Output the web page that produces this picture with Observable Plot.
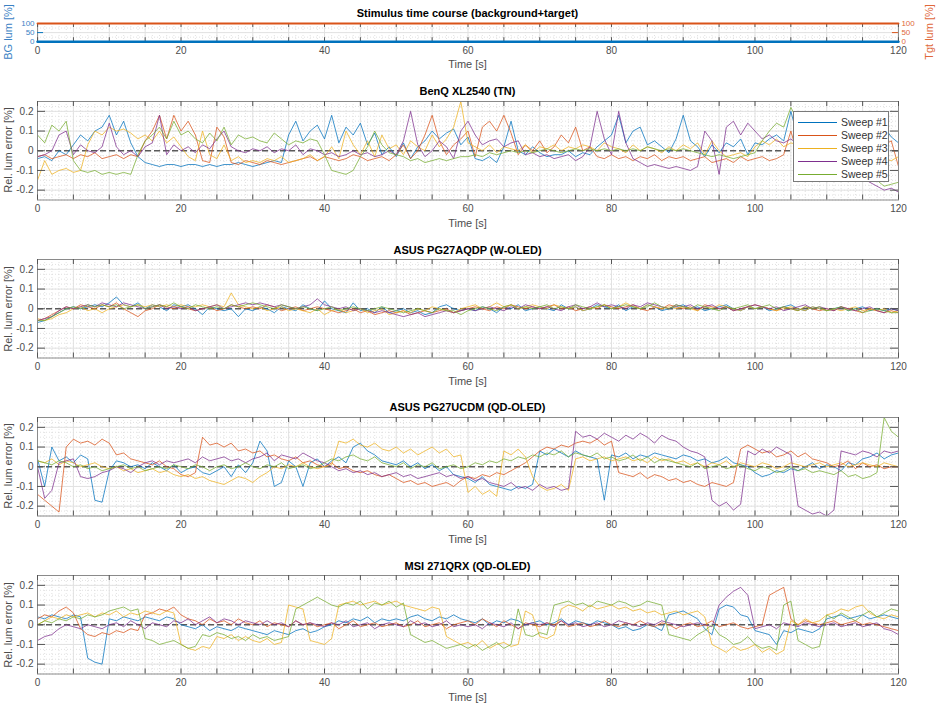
<!DOCTYPE html>
<html><head><meta charset="utf-8">
<script src="https://cdn.jsdelivr.net/npm/d3@7"></script>
<script src="https://cdn.jsdelivr.net/npm/@observablehq/plot@0.6"></script>
<style>
body{margin:0;background:#fff;font-family:"Liberation Sans",Arial,Helvetica,sans-serif;}
#root{position:relative;width:938px;height:708px;overflow:hidden;background:#fff;}
.panel{position:absolute;left:0;}
.ttl{position:absolute;left:37px;width:861px;text-align:center;font-weight:bold;font-size:11px;line-height:13px;color:#000;}
.xl{position:absolute;left:37px;width:861px;text-align:center;font-size:11px;line-height:13px;color:#4d4d4d;}
.yl{position:absolute;font-size:11px;line-height:13px;color:#4d4d4d;white-space:nowrap;transform:translate(-50%,-50%) rotate(-90deg);}
.leg{position:absolute;background:#fff;border:1px solid #7a7a7a;box-sizing:border-box;}
.legrow{position:absolute;left:0;height:13px;width:100%;font-size:10.5px;line-height:13px;color:#333;white-space:nowrap;}
.legline{position:absolute;left:4px;top:6px;width:39px;height:0;border-top:1px solid;}
.legtxt{position:absolute;left:47px;top:0;white-space:nowrap;}
</style></head><body><div id="root"></div><script>
// ---------- data ----------
const sampleTimes = d3.range(0, 121, 1); // seconds
const sweepNames = ["Sweep #1", "Sweep #2", "Sweep #3", "Sweep #4", "Sweep #5"];
const sweepColors = ["#0072BD", "#D95319", "#EDB120", "#7E2F8E", "#77AC30"];
const panelTitles = ["BenQ XL2540 (TN)", "ASUS PG27AQDP (W-OLED)", "ASUS PG27UCDM (QD-OLED)", "MSI 271QRX (QD-OLED)"];
const stimTitle = "Stimulus time course (background+target)";
const xTickLabels = [0, 20, 40, 60, 80, 100, 120];
const xTickMarks = [0,5,10,15,20,25,30,35,40,45,50,55,60,65,70,75,80,85,90,95,100,105,110,115,120];
const yTickLabels = [-0.2, -0.1, 0, 0.1, 0.2];
const stimTicks = [0, 50, 100];
const stimTime = [0, 120];
const bgLum = [0, 0];
const tgtLum = [100, 100];

// relative luminance error, in hundredths of a percent, one value per second
const benq1 = [-4,-3,-5,0,-2,3,8,5,10,12, 18,8,15,4,-3,-6,-7,-8,-7,-7, -8,-7,-7,-8,-7,-8,-7,-7,-6,-7, -8,-7,-6,-5,-6,8,15,5,10,13, 6,18,4,12,8,14,3,9,-2,2, -3,4,-4,2,5,10,6,9,11,3, 7,-4,-5,-3,-6,2,15,0,-2,2, -1,-3,-2,-2,0,-3,-1,-2,2,5, 8,18,4,10,12,3,5,2,-1,6, 18,5,2,-3,3,-1,4,2,6,-2, 4,3,6,8,5,20,6,4,2,5, 3,6,2,7,4,8,3,10,12,7, 4];
const benq2 = [-3,-2,-4,-3,-2,-4,-2,-3,-1,-4, -3,-2,-4,-2,-3,5,10,18,6,18, 10,15,8,-5,-6,12,7,-6,-7,-5, -6,-7,-5,-6,-7,-6,-5,-4,-3,-5, -3,-4,-5,-4,-2,-3,-5,-4,-3,-5, -2,3,-4,0,8,18,5,-2,3,6, 10,-3,12,15,10,18,9,-2,3,0, 5,-1,2,8,4,12,0,2,-3,-4, -2,-4,-3,-5,-3,-4,-2,-5,-3,-4, -3,-5,-4,-3,-6,-5,-4,-6,-3,-5, -4,-3,-5,-4,-2,10,-3,-4,-2,-3, -2,-4,-3,-1,-3,0,-2,2,3,5, -8];
const benq3 = [-15,-5,-12,-10,-9,-11,-10,3,10,8, 12,10,11,9,6,8,5,10,4,7, 2,-3,-5,10,-2,-4,3,-5,-3,-6, -5,-6,-4,-5,-3,-6,-5,-4,-2,-5, -3,2,-4,10,3,-2,5,-3,8,1, 3,-2,5,2,0,8,2,6,12,25, 4,2,0,3,-1,2,1,0,3,-1, 2,1,3,0,2,1,3,2,0,4, 2,1,-1,3,0,2,1,-1,2,0, 3,1,4,-2,5,0,-3,-2,-1,-3, 2,5,3,6,2,4,3,2,1,3, 2,0,3,1,2,-1,0,-2,-4,-5, -3];
const benq4 = [-3,-2,0,8,10,-2,3,0,-1,2, 14,2,-2,0,-3,2,4,18,-2,3, 0,2,-1,3,1,6,10,2,0,-1, 1,0,2,-1,1,0,3,-2,1,0, -2,-1,-3,-2,0,-2,-1,-3,-2,0, -2,5,20,3,-3,0,5,2,-4,10, 15,8,3,5,6,2,4,5,-2,-1, -3,-2,-4,-3,-2,-5,-3,2,20,6, -2,20,4,-4,-6,-8,-7,-8,-9,-8, -9,-10,-8,10,5,-12,12,15,8,14, 10,6,8,5,4,6,3,2,0,-2, -4,-6,-8,-10,-12,-14,-16,-18,-20,-19, -21];
const benq5 = [8,4,13,10,15,-5,-10,-11,-10,-12, -11,-12,-11,-12,-2,5,8,12,6,15, 8,10,6,4,9,5,12,3,8,6, 7,5,4,9,6,3,5,4,6,5, -2,-10,-11,-12,-10,-3,2,10,3,-1, -2,-3,-5,-4,-6,-5,-4,-5,-4,-3, -3,-2,-3,-1,-2,-1,0,-1,0,-1, 0,1,0,-1,0,1,0,1,0,1, 0,1,0,1,0,2,1,0,1,0, 1,0,-1,-2,-3,-2,-3,-4,-3,-2, -1,5,10,14,12,22,15,8,5,3, 2,0,-2,-5,-8,-10,-12,-15,-18,-17, -16];

const woled1 = [-7,-6,-4,-2,0,1,0,1,2,1, 3,6,2,1,3,0,2,1,-1,2, 1,2,0,-3,1,0,-1,0,-4,0, -1,1,0,-2,1,0,-1,2,0,-1, 4,0,-1,-2,3,-1,0,-2,1,-2, -1,0,-2,-1,-3,-2,1,2,0,-1, 0,-1,1,0,-2,1,0,2,-1,0, 1,0,-1,2,0,1,-1,0,2,1, 0,2,-1,1,0,2,1,-1,0,1, 2,0,1,-1,0,1,2,0,-1,1, 0,1,-1,0,1,2,0,-1,1,0, -1,0,1,-1,0,1,-1,0,-1,0, -1];
const woled2 = [-6,-5,-3,-1,1,0,2,1,0,2, 1,3,0,-2,-4,-1,0,2,1,0, 1,0,-1,0,1,-1,0,2,1,0, 1,0,2,1,-1,0,1,-1,0,1, 0,-1,-2,-1,0,-2,-1,-3,-2,-1, -2,-1,-3,-2,-1,-2,-1,0,-2,-1, 0,1,0,-1,1,0,2,1,0,1, 0,1,2,0,1,-1,0,1,0,2, 1,0,1,2,0,-1,1,0,2,1, 0,1,-1,2,1,0,1,-1,0,1, 2,1,0,-1,1,0,-1,1,0,-1, 0,-1,1,0,-1,-2,0,-1,-2,-1, -2];
const woled3 = [-5,-6,-5,-3,-2,0,1,-1,0,-2, 0,1,2,1,2,1,2,1,2,1, 2,1,1,2,1,2,1,8,2,1, 0,1,-1,0,1,-1,0,-1,-2,0, -3,-1,0,-2,-1,0,-2,-1,0,-3, -2,-1,-2,0,-1,1,0,-1,-2,0, 1,2,0,1,3,1,2,0,1,2, 1,0,2,1,0,1,-1,0,1,2, 0,1,3,1,0,2,1,0,1,0, 1,0,-1,1,0,2,1,0,-1,1, 0,1,0,-1,0,1,0,-1,1,0, -1,0,-1,0,1,-1,0,-1,0,-2, -1];
const woled4 = [-6,-5,-4,-1,1,0,1,2,1,3, 2,1,3,2,1,0,1,2,0,1, 0,1,-1,0,1,2,0,1,2,3, 2,3,2,1,2,1,0,1,2,5, 2,1,0,1,-1,0,-1,-2,-1,-2, -3,-4,-3,-2,-4,-3,-2,-1,-2,-1, 0,-1,0,1,0,-1,1,0,2,1, 0,1,0,-1,1,2,0,1,3,1, 2,1,0,2,1,3,2,1,0,2, 1,2,0,1,2,0,1,-1,0,1, 2,1,0,1,-1,0,1,2,0,1, 0,-1,1,0,-1,0,1,-1,-2,0, -1];
const woled5 = [-6,-6,-4,-2,0,1,0,2,1,2, 1,2,0,1,2,0,1,2,1,3, 1,0,2,1,0,1,0,2,1,2, 3,2,1,0,2,1,0,1,0,-1, 0,1,-1,0,1,0,-1,0,1,0, -1,-2,-1,0,-1,-2,0,-1,-1,-3, -1,0,1,0,-1,1,2,0,1,0, 1,2,0,1,0,2,1,0,1,2, 0,1,2,1,0,1,3,1,0,2, 1,0,2,1,0,-1,1,0,1,2, 0,1,2,0,1,0,-1,1,0,1, -1,0,1,-1,0,-2,-1,0,-1,-2, -2];

const ucdm1 = [4,-10,10,3,5,2,6,4,-17,-18, -2,3,2,0,1,-1,2,0,-2,1, -3,-1,0,-3,-4,-2,0,-5,1,-3, 2,13,8,-10,-8,3,0,-10,2,4, 0,3,5,2,10,12,8,6,3,2, 1,3,0,2,-1,1,-2,0,-4,-5, -6,-8,-5,-9,-10,-11,-12,-10,-11,-9, 8,6,9,7,5,8,6,5,4,-17, 6,5,7,4,6,5,7,6,5,4, 6,5,3,4,2,3,5,2,1,0, -3,-5,-4,-2,-3,-1,-2,0,2,-1, 1,0,-2,2,1,4,5,7,4,6, 7];
const ucdm2 = [-14,-17,-20,-23,10,14,12,13,11,14, 12,6,7,4,3,2,1,3,0,-1, -4,-5,-3,15,11,12,10,12,8,9, 7,8,5,6,4,3,5,2,3,1, 0,2,-1,0,-2,-3,-2,-4,-5,-4, -6,-8,-7,-9,-8,-10,-9,-8,-10,-7, -5,-6,-4,-5,-3,-4,-2,0,2,5, 8,10,9,11,10,12,13,12,14,11, 13,-3,-4,-5,-3,-6,-4,-5,-7,-6, -8,-7,-9,-10,-8,-9,-10,-8,9,11, 9,7,8,5,6,8,5,7,4,3, 2,0,1,3,-1,2,0,1,-1,0, 0];
const ucdm3 = [3,2,4,1,3,2,0,1,2,0, -1,0,-2,-1,-3,-2,-1,-3,-2,-4, -5,-4,-6,-5,-7,-8,-9,-7,-5,-6, -8,-5,-3,0,-1,1,0,2,0,-1, 0,1,13,12,14,11,10,12,9,8, 10,7,9,6,8,10,7,9,5,6, -13,-10,-14,-12,-15,8,6,9,5,-5, -10,-12,-11,-9,-12,4,5,3,4,5, 3,4,5,3,4,2,5,3,4,2, 3,1,2,0,2,1,3,0,2,1, 0,2,1,-1,0,2,1,0,1,2, 0,1,2,0,1,2,1,0,2,1, 0];
const ucdm4 = [0,-16,-12,2,3,4,-5,-6,-5,-3, -2,0,-1,-3,0,2,3,1,3,2, 3,4,2,5,3,4,5,3,4,2, 4,5,7,3,6,5,4,7,5,3, 2,0,-2,-1,-3,-2,-4,-3,-5,-4, -3,-5,-4,-6,-5,-4,-3,-5,-4,-6, -5,-7,-6,-8,-9,-10,-8,-11,-10,-12, -9,-11,-10,-12,-11,18,15,16,14,17, 15,13,16,14,17,15,12,16,14,13, 10,8,7,5,-17,-20,-18,-22,-19,8, 6,9,7,10,8,6,-20,-22,-24,-23, -25,-22,8,7,6,8,7,5,8,7, 8];
const ucdm5 = [3,2,1,3,2,0,1,-1,0,-2, -1,0,1,-1,0,-2,-1,0,-1,1, 0,-1,1,0,-2,0,1,-1,0,2, 0,-1,1,0,2,-1,0,1,-1,0, 2,4,3,5,6,4,3,5,2,1, 0,2,-1,1,0,2,-1,0,1,-1, 0,2,1,3,2,4,3,5,4,6, 5,7,6,8,5,7,6,5,7,4, 5,3,4,6,3,5,2,4,3,2, 1,0,2,-1,0,1,-1,0,1,-1, -2,0,-1,-3,-2,0,-2,-1,-3,-2, -3,-4,-2,-5,-4,-6,-5,-3,25,18, 15];

const msi1 = [4,3,5,4,3,5,4,-17,-19,-20, 3,2,4,3,2,4,3,2,4,3, 0,-1,-2,0,-3,-1,-2,-3,-1,-2, -3,-4,-5,-3,-4,-5,-3,-2,-4,-3, -1,0,2,1,3,2,4,1,3,2, 3,2,4,5,3,2,4,3,5,3, 2,1,3,0,2,1,3,2,0,1, 2,0,1,3,0,2,1,0,2,1, 0,-2,-1,-3,-2,0,-1,-3,5,6, 7,5,3,-2,-5,8,10,9,5,4, -3,-4,-5,-10,-3,-4,-2,-3,-4,-2, 3,4,5,3,4,5,3,4,5,4, 3];
const msi2 = [3,5,4,7,9,6,-2,-5,-6,-4, -5,-3,-4,-2,-3,5,6,8,7,9, 5,3,2,0,3,1,2,0,3,1, 0,2,-1,1,0,-1,2,0,1,-1, 0,1,-2,0,2,-1,0,1,-1,0, 1,-1,0,2,-1,0,1,-2,0,1, 2,0,3,1,-1,2,0,-2,1,0, -1,1,0,2,-1,0,1,-1,0,2, 0,-1,1,0,2,0,-1,1,0,-2, 0,1,-1,0,2,-1,0,1,-1,-2, -1,0,15,17,19,3,0,2,1,0, 1,2,0,1,2,0,1,0,-1,-2, -3];
const msi3 = [0,2,4,3,5,4,5,6,4,6, 5,7,4,6,5,7,6,5,7,6, -10,-12,-13,-11,-12,-6,-7,-5,-8,-6, -8,-9,-7,-10,-9,10,9,8,-8,-9, -10,-7,10,11,12,10,11,12,10,11, 12,10,9,8,7,9,8,-6,-8,-10, -9,-11,-8,-12,-10,-9,-11,-10,7,5, -6,-7,-5,8,10,9,7,10,8,9, 10,8,9,7,8,6,7,5,6,7, 5,6,7,4,-10,-12,-14,-11,-13,-12, -10,-14,-12,-15,-13,2,0,3,1,2, 5,6,8,7,9,10,6,4,3,5, 4];
const msi4 = [-8,-6,-5,-2,0,-1,-2,0,-1,-2, 0,1,-1,2,0,-2,1,0,-1,2, 1,3,0,2,4,1,3,2,0,2, 1,0,2,0,1,-1,2,0,1,0, -1,1,0,2,-1,0,1,-2,0,1, 0,-1,2,0,1,-1,0,2,-1,0, -1,0,-2,1,0,-1,1,-2,0,1, 0,1,-1,2,0,1,-1,0,1,-1, 0,2,1,0,-1,1,0,2,1,0, -1,0,1,0,-1,10,14,17,19,15, -2,-1,0,-2,1,0,-1,1,0,-1, 0,1,-1,0,1,-1,0,1,-2,-3, -5];
const msi5 = [0,2,1,3,2,4,3,5,4,5, 7,8,9,7,8,-7,-8,-10,-9,-8, -10,-12,-11,-5,-6,-4,-5,-7,-6,-8, -5,-7,-6,-8,-7,-6,8,10,12,14, 12,10,9,11,10,12,8,11,10,12, 9,11,-5,-7,-9,-8,-10,-12,-11,-10, -12,-10,-13,-11,-9,-12,-10,8,-5,-6, -4,-5,10,11,12,10,11,9,12,11, 10,12,11,9,10,12,11,10,-5,-6, -7,-8,-5,-3,0,-5,-7,-10,-9,-6, -10,-12,-11,-13,10,12,-8,-10,-12,-11, 5,3,6,4,2,5,7,4,6,8, 7];

const panelSeries = [
  [benq1, benq2, benq3, benq4, benq5],
  [woled1, woled2, woled3, woled4, woled5],
  [ucdm1, ucdm2, ucdm3, ucdm4, ucdm5],
  [msi1, msi2, msi3, msi4, msi5]
];

// ---------- layout ----------
const root = document.getElementById("root");
const W = 938, ML = 37, MR = 40, MT = 20, MB = 40;
const innerW = W - ML - MR;
const font = "'Liberation Sans', Arial, Helvetica, sans-serif";
const minorX = d3.range(0, 121, 1);
const majorGridY = [-0.2, -0.1, 0.1, 0.2];
const minorY = d3.range(-0.25, 0.2501, 0.025);
const minorStyle = {stroke: "#d4d4d4", strokeOpacity: 0.7, strokeDasharray: "1,2"};
const majorStyle = {stroke: "#e2e2e2", strokeOpacity: 1};

function addDiv(cls, text, style) {
  const d = document.createElement("div");
  d.className = cls;
  d.textContent = text;
  Object.assign(d.style, style);
  root.appendChild(d);
  return d;
}

function place(svg, top) {
  const wrap = document.createElement("div");
  wrap.className = "panel";
  wrap.style.top = top + "px";
  wrap.appendChild(svg);
  root.appendChild(wrap);
}

// ---------- stimulus panel ----------
{
  const boxTop = 22.5, boxH = 18.2;
  const svg = Plot.plot({
    width: W, height: MT + boxH + MB,
    marginTop: MT, marginBottom: MB, marginLeft: ML, marginRight: MR,
    style: {fontFamily: font, fontSize: "10px", background: "transparent", overflow: "visible"},
    x: {domain: [0, 120]},
    y: {domain: [0, 100]},
    marks: [
      Plot.gridX(minorX, minorStyle),
      Plot.gridY([25, 75], minorStyle),
      Plot.gridX(xTickMarks, majorStyle),
      Plot.gridY(stimTicks, majorStyle),
      Plot.frame({stroke: "#8a8a8a"}),
      Plot.ruleX(xTickMarks, {insetTop: boxH - 4, stroke: "#555"}),
      Plot.ruleX(xTickMarks, {insetBottom: boxH - 4, stroke: "#555"}),
      Plot.ruleY(stimTicks, {insetRight: innerW - 6, stroke: "#0072BD"}),
      Plot.ruleY(stimTicks, {insetLeft: innerW - 6, stroke: "#D95319"}),
      Plot.line(stimTime, {x: stimTime, y: tgtLum, stroke: "#D95319", strokeWidth: 2}),
      Plot.line(stimTime, {x: stimTime, y: bgLum, stroke: "#0072BD", strokeWidth: 2.6}),
      Plot.axisX({ticks: xTickLabels, tickSize: 0, tickPadding: 5, label: null, color: "#4d4d4d"}),
      Plot.axisY({anchor: "left", ticks: stimTicks, tickSize: 0, tickPadding: 3, label: null, color: "#3b82c4", fontSize: 8}),
      Plot.axisY({anchor: "right", ticks: stimTicks, tickSize: 0, tickPadding: 3, label: null, color: "#e0683a", fontSize: 8})
    ]
  });
  place(svg, boxTop - MT);
  addDiv("ttl", stimTitle, {top: (boxTop - 9.5 - 6.5) + "px"});
  addDiv("xl", "Time [s]", {top: (boxTop + boxH + 23.5 - 6.5) + "px"});
  addDiv("yl", "BG lum [%]", {left: "8px", top: (boxTop + boxH / 2) + "px", color: "#3b82c4"});
  addDiv("yl", "Tgt lum [%]", {left: "929px", top: (boxTop + boxH / 2) + "px", color: "#e0683a"});
}

// ---------- sweep panels ----------
const boxTops = [100.8, 259.3, 416.8, 575.3];
const boxH = 98.5;
panelTitles.forEach((title, p) => {
  const data = [];
  panelSeries[p].forEach((series, i) => {
    series.forEach((v, j) => data.push({t: sampleTimes[j], v: v / 100, sweep: sweepNames[i]}));
  });
  const boxTop = boxTops[p];
  const svg = Plot.plot({
    width: W, height: MT + boxH + MB,
    marginTop: MT, marginBottom: MB, marginLeft: ML, marginRight: MR,
    style: {fontFamily: font, fontSize: "10px", background: "transparent", overflow: "visible"},
    x: {domain: [0, 120]},
    y: {domain: [-0.25, 0.25]},
    color: {domain: sweepNames, range: sweepColors},
    marks: [
      Plot.gridX(minorX, minorStyle),
      Plot.gridY(minorY, minorStyle),
      Plot.gridX(xTickMarks, majorStyle),
      Plot.gridY(majorGridY, majorStyle),
      Plot.ruleY([0], {stroke: "#5a5a5a", strokeWidth: 1.3, strokeDasharray: "6,3"}),
      Plot.line(data, {x: "t", y: "v", z: "sweep", stroke: "sweep", strokeWidth: 0.75, clip: true}),
      Plot.frame({stroke: "#8a8a8a"}),
      Plot.ruleX(xTickMarks, {insetTop: boxH - 5, stroke: "#555"}),
      Plot.ruleX(xTickMarks, {insetBottom: boxH - 5, stroke: "#555"}),
      Plot.ruleY(yTickLabels, {insetRight: innerW - 8, stroke: "#555"}),
      Plot.ruleY(yTickLabels, {insetLeft: innerW - 8, stroke: "#555"}),
      Plot.axisX({ticks: xTickLabels, tickSize: 0, tickPadding: 5, label: null, color: "#4d4d4d"}),
      Plot.axisY({ticks: yTickLabels, tickSize: 0, tickPadding: 4, label: null, color: "#4d4d4d",
                  tickFormat: d => String(d)})
    ]
  });
  place(svg, boxTop - MT);
  addDiv("ttl", title, {top: (boxTop - 9 - 6.5) + "px"});
  addDiv("xl", "Time [s]", {top: (boxTop + boxH + 24 - 6.5) + "px"});
  addDiv("yl", "Rel. lum error [%]", {left: "8px", top: (boxTop + boxH / 2) + "px"});
});

// ---------- legend (first panel) ----------
{
  const leg = addDiv("leg", "", {left: "793px", top: "111px", width: "95.5px", height: "71px"});
  sweepNames.forEach((name, i) => {
    const row = document.createElement("div");
    row.className = "legrow";
    row.style.top = (3.5 + i * 13.2) + "px";
    const ln = document.createElement("div");
    ln.className = "legline";
    ln.style.borderTopColor = sweepColors[i];
    const tx = document.createElement("div");
    tx.className = "legtxt";
    tx.textContent = name;
    row.appendChild(ln); row.appendChild(tx);
    leg.appendChild(row);
  });
}
</script></body></html>
